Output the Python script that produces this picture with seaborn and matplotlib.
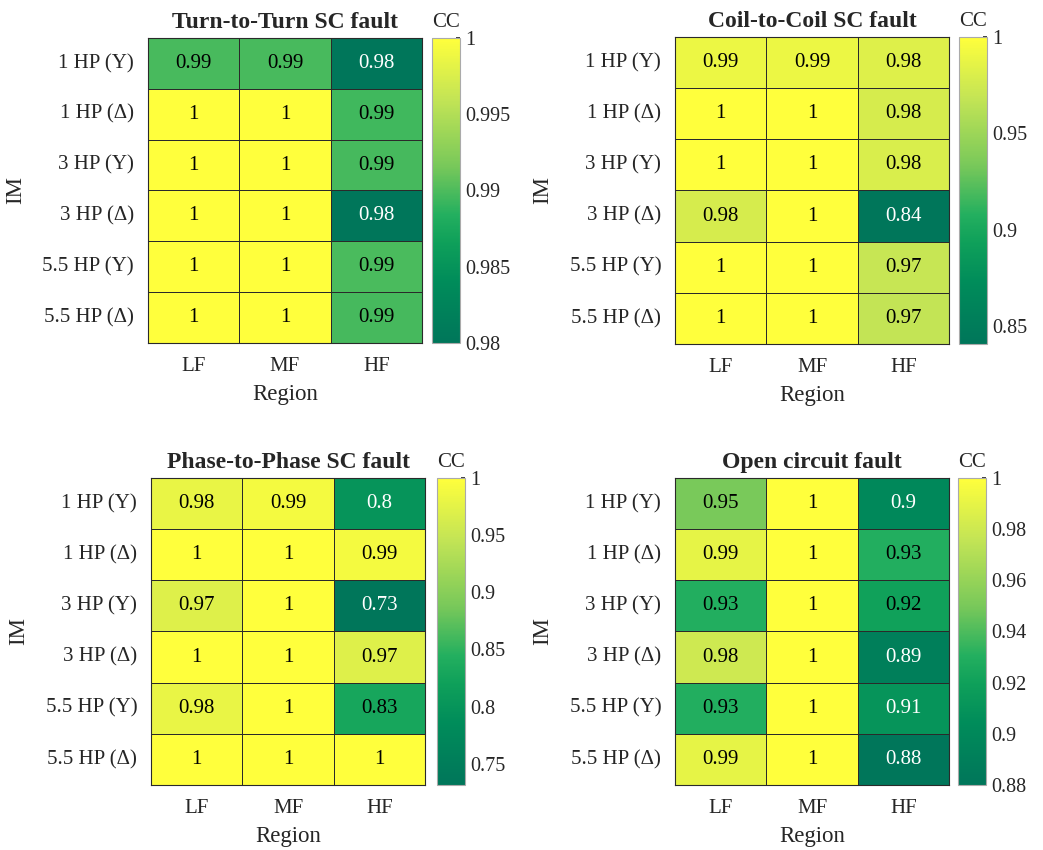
import numpy as np
import pandas as pd
import matplotlib
matplotlib.use("Agg")
import matplotlib.pyplot as plt
from matplotlib.colors import LinearSegmentedColormap
import seaborn as sns

# ── Data ──────────────────────────────────────────────────────────────────────
MOTORS  = ["1 HP (Y)", "1 HP (Δ)", "3 HP (Y)", "3 HP (Δ)", "5.5 HP (Y)", "5.5 HP (Δ)"]
REGIONS = ["LF", "MF", "HF"]

TURN_TO_TURN = [[0.9898, 0.9898, 0.9800],
                [1.0000, 1.0000, 0.9895],
                [1.0000, 1.0000, 0.9897],
                [1.0000, 1.0000, 0.9800],
                [1.0000, 1.0000, 0.9899],
                [1.0000, 1.0000, 0.9897]]

COIL_TO_COIL = [[0.990, 0.990, 0.982],
                [1.000, 1.000, 0.978],
                [1.000, 1.000, 0.980],
                [0.978, 1.000, 0.8406],
                [1.000, 1.000, 0.970],
                [1.000, 1.000, 0.968]]

PHASE_TO_PHASE = [[0.980, 0.990, 0.800],
                  [1.000, 1.000, 0.990],
                  [0.970, 1.000, 0.7314],
                  [1.000, 1.000, 0.970],
                  [0.980, 1.000, 0.830],
                  [1.000, 1.000, 1.000]]

OPEN_CIRCUIT = [[0.950, 1.000, 0.900],
                [0.990, 1.000, 0.930],
                [0.930, 1.000, 0.920],
                [0.980, 1.000, 0.890],
                [0.930, 1.000, 0.910],
                [0.990, 1.000, 0.880]]

TITLES = ["Turn-to-Turn SC fault", "Coil-to-Coil SC fault",
          "Phase-to-Phase SC fault", "Open circuit fault"]
CBAR_TICKS = [[0.98, 0.985, 0.99, 0.995, 1.0],
              [0.85, 0.9, 0.95, 1.0],
              [0.75, 0.8, 0.85, 0.9, 0.95, 1.0],
              [0.88, 0.9, 0.92, 0.94, 0.96, 0.98, 1.0]]

# green -> yellow map
CMAP = LinearSegmentedColormap.from_list("cc_map", [
    (0.00, "#00765a"),
    (0.20, "#008c5a"),
    (0.33, "#0fa05a"),
    (0.42, "#23af5f"),
    (0.58, "#78c85a"),
    (0.80, "#c3e455"),
    (1.00, "#ffff3c"),
])

# ── Layout (figure fractions) ─────────────────────────────────────────────────
HM_POS = [[0.1419, 0.5965, 0.2627, 0.3588],
          [0.6472, 0.5953, 0.2627, 0.3612],
          [0.1448, 0.0765, 0.2627, 0.3612],
          [0.6472, 0.0765, 0.2627, 0.3612]]
CB_X = [0.4142, 0.9195, 0.4190, 0.9185]
CB_W = 0.0268

sns.set_theme(style="white")
plt.rcParams["font.family"] = ["Liberation Serif", "DejaVu Serif"]

fig = plt.figure(figsize=(10.43, 8.5), dpi=100)

panels = [TURN_TO_TURN, COIL_TO_COIL, PHASE_TO_PHASE, OPEN_CIRCUIT]
for i, values in enumerate(panels):
    data = pd.DataFrame(values, index=MOTORS, columns=REGIONS)
    x, y, w, h = HM_POS[i]
    ax = fig.add_axes([x, y, w, h])
    cax = fig.add_axes([CB_X[i], y, CB_W, h])

    vmin, vmax = data.values.min(), data.values.max()
    sns.heatmap(data, ax=ax, cbar_ax=cax, cmap=CMAP, vmin=vmin, vmax=vmax,
                annot=True, fmt=".2g", annot_kws={"fontsize": 15},
                linewidths=0.6, linecolor="#2a2a2a")

    # white text on dark cells, black elsewhere
    for txt, v in zip(ax.texts, data.values.ravel()):
        t = (v - vmin) / (vmax - vmin)
        txt.set_color("white" if t < 0.3 else "black")

    for s in ax.spines.values():
        s.set_visible(True)
        s.set_color("#2a2a2a")
        s.set_linewidth(0.8)

    ax.set_title(TITLES[i], fontsize=17, fontweight="bold", pad=7)
    ax.set_xlabel("Region", fontsize=16.5, labelpad=6)
    ax.set_ylabel("IM", fontsize=16.5, labelpad=12)
    ax.tick_params(axis="both", length=0, labelsize=15, pad=10)
    ax.set_yticklabels(MOTORS, rotation=0)
    ax.set_xticklabels(REGIONS, rotation=0)

    cb = ax.collections[0].colorbar
    cb.set_ticks(CBAR_TICKS[i])
    cb.set_ticklabels([f"{t:g}" for t in CBAR_TICKS[i]])
    cax.tick_params(labelsize=14.5, length=3, direction="in", pad=4)
    cb.outline.set_edgecolor("#aaaaaa")
    cb.outline.set_linewidth(0.8)
    cax.set_title("CC", fontsize=15, pad=8)

fig.savefig("out.png", dpi=100, facecolor="white")
